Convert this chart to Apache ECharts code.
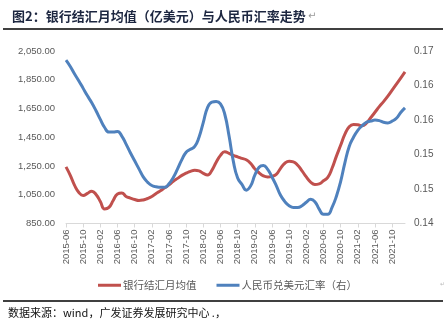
<!DOCTYPE html>
<html><head><meta charset="utf-8">
<script src="https://cdn.jsdelivr.net/npm/echarts@6/dist/echarts.min.js"></script>
<style>html,body{margin:0;padding:0;background:#fff;}#c{width:446px;height:330px;}</style>
</head><body><div id="c"></div>
<script>
// categories: monthly, 2015-06 .. 2022-01
var months = [];
(function(){ var y=2015, m=6; for (var k=0;k<80;k++){ months.push(y+'-'+(m<10?'0':'')+m); m++; if(m>12){m=1;y++;} } })();

var settlement = [1244,1185,1115,1066,1045,1059,1075,1052,1003,951,962,1010,1056,1063,1038,1027,1017,1010,1014,1024,
  1038,1059,1077,1098,1119,1143,1164,1185,1200,1213,1220,1216,1199,1188,1220,1276,1324,1349,1338,1324,
  1314,1303,1293,1269,1230,1202,1181,1174,1178,1192,1234,1269,1283,1279,1255,1216,1174,1138,1122,1126,
  1147,1171,1234,1317,1394,1471,1523,1539,1537,1530,1548,1586,1624,1663,1698,1736,1778,1820,1862,1904];

var cnyusd = [0.1684,0.1673,0.1660,0.1648,0.1635,0.1622,0.1610,0.1596,0.1581,0.1567,0.1559,0.1559,0.1560,0.1552,0.1538,0.1523,0.1509,0.1495,0.1481,0.1472,
  0.1466,0.1464,0.1463,0.1463,0.1469,0.1480,0.1495,0.1511,0.1524,0.1529,0.1534,0.1550,0.1576,0.1602,0.1611,0.1612,0.1608,0.1590,0.1552,0.1508,
  0.1479,0.1468,0.1458,0.1465,0.1484,0.1498,0.1501,0.1494,0.1481,0.1466,0.1449,0.1438,0.1431,0.1428,0.1428,0.1431,0.1437,0.1442,0.1438,0.1425,
  0.1416,0.1416,0.1428,0.1447,0.1473,0.1506,0.1534,0.1550,0.1562,0.1570,0.1576,0.1578,0.1580,0.1579,0.1576,0.1575,0.1578,0.1583,0.1593,0.1601];

var leftTicks = [850,1050,1250,1450,1650,1850,2050];
var rightTicks = [0.14,0.146,0.152,0.158,0.164,0.17];
var seriesNames = ['银行结汇月均值','人民币兑美元汇率（右）'];
var titleText = '图2：银行结汇月均值（亿美元）与人民币汇率走势';
var sourceText = '数据来源：wind，广发证券发展研究中心 .，';

var chart = echarts.init(document.getElementById('c'), null, {renderer:'canvas'});
var axisFont = {fontFamily:'Liberation Sans', fontSize:9.5, color:'#595959'};
chart.setOption({
  animation:false,
  backgroundColor:'#fff',
  title:{ text:titleText, left:7, top:5,
    textStyle:{fontFamily:'Noto Sans CJK SC', fontSize:13, fontWeight:'bold', color:'#1c2640'} },
  graphic:[
    {type:'text', left:308, top:11, z:100, style:{text:'\u21B5', fill:'#999', font:'10px DejaVu Sans'}},
    {type:'text', left:440, top:281, style:{text:'\u21B5', fill:'#bbb', font:'6px DejaVu Sans'}},
    {type:'line', shape:{x1:3,y1:29,x2:443,y2:29}, style:{stroke:'#000', lineWidth:1.5}},
    {type:'line', shape:{x1:3,y1:301,x2:443,y2:301}, style:{stroke:'#000', lineWidth:1.5}},
    {type:'text', left:8, top:307, style:{text:sourceText, fill:'#111', font:'11px Noto Sans CJK SC'}}
  ],
  legend:{ left:93, top:275, itemWidth:23, itemHeight:3, itemGap:20, icon:'rect',
    textStyle:{fontFamily:'Noto Sans CJK SC', fontSize:10.5, color:'#595959', padding:[0,0,0,-3]},
    data:seriesNames },
  grid:{ left:66, right:41, top:51, bottom:106.5 },
  xAxis:{ type:'category', data:months, boundaryGap:false,
    axisLine:{lineStyle:{color:'#d9d9d9'}},
    axisTick:{interval:3, length:4, lineStyle:{color:'#d9d9d9'}},
    axisLabel:Object.assign({interval:3, rotate:90, margin:6}, axisFont),
    splitLine:{show:false} },
  yAxis:[
    { type:'value', min:850, max:2050, position:'left',
      axisLine:{show:false}, axisTick:{show:false}, splitLine:{show:false},
      axisLabel:Object.assign({ customValues:leftTicks, margin:11,
        formatter:function(v){return v.toLocaleString('en-US',{minimumFractionDigits:2,maximumFractionDigits:2});} }, axisFont) },
    { type:'value', min:0.14, max:0.17, position:'right',
      axisLine:{show:false}, axisTick:{show:false}, splitLine:{show:false},
      axisLabel:Object.assign({ customValues:rightTicks, margin:9,
        formatter:function(v){return v.toFixed(2);} }, axisFont, {fontSize:10}) }
  ],
  series:[
    { name:seriesNames[0], type:'line', yAxisIndex:0, data:settlement, smooth:0.5, showSymbol:false,
      lineStyle:{color:'#C0504D', width:3}, itemStyle:{color:'#C0504D'} },
    { name:seriesNames[1], type:'line', yAxisIndex:1, data:cnyusd, smooth:0.5, showSymbol:false,
      lineStyle:{color:'#4F81BD', width:3}, itemStyle:{color:'#4F81BD'} }
  ]
});
</script></body></html>
